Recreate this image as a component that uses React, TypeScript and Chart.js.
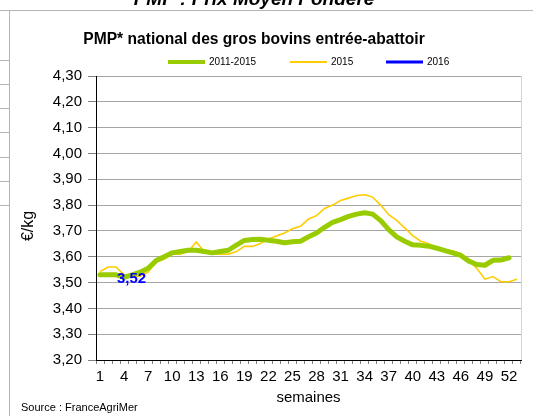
import { useEffect, useRef } from 'react';
import { Chart, registerables } from 'chart.js';

Chart.register(...registerables);

const weeks = ['1','2','3','4','5','6','7','8','9','10','11','12','13','14','15','16','17','18','19','20','21','22','23','24','25','26','27','28','29','30','31','32','33','34','35','36','37','38','39','40','41','42','43','44','45','46','47','48','49','50','51','52','53'];

const avg20112015 = [3.53,3.53,3.53,3.52,3.53,3.54,3.555,3.585,3.60,3.615,3.62,3.625,3.625,3.62,3.615,3.62,3.625,3.645,3.663,3.667,3.668,3.664,3.66,3.654,3.658,3.66,3.677,3.692,3.714,3.733,3.744,3.756,3.765,3.77,3.765,3.74,3.705,3.677,3.66,3.646,3.644,3.641,3.633,3.624,3.615,3.605,3.583,3.57,3.567,3.586,3.587,3.596];

const y2015 = [3.543,3.56,3.56,3.53,3.525,3.525,3.54,3.58,3.59,3.61,3.61,3.62,3.657,3.62,3.61,3.61,3.61,3.62,3.64,3.64,3.651,3.669,3.68,3.692,3.708,3.718,3.746,3.759,3.787,3.80,3.818,3.827,3.837,3.84,3.831,3.80,3.763,3.741,3.712,3.682,3.66,3.65,3.635,3.628,3.622,3.613,3.587,3.554,3.513,3.523,3.503,3.503,3.513];

const y2016 = [3.52];

const seriesNames = ['2011-2015', '2015', '2016'];
const seriesColors = ['#99cc00', '#ffcc00', '#0000ff'];

const yMin = 3.2;
const yMax = 4.3;
const yStep = 0.1;

const pageTitle = 'PMP : Prix Moyen Pondéré';
const chartTitle = 'PMP* national des gros bovins entrée-abattoir';
const yTitle = '€/kg';
const xTitle = 'semaines';
const sourceText = 'Source : FranceAgriMer';

const FONT = '"Liberation Sans", Arial, sans-serif';
const fmt = (v: number) => Number(v).toFixed(2).replace('.', ',');

const decorPlugin = {
  id: 'decor',
  beforeDraw(chart: any) {
    const ctx = chart.ctx as CanvasRenderingContext2D;
    ctx.save();
    ctx.fillStyle = '#ffffff';
    ctx.fillRect(0, 0, chart.width, chart.height);
    ctx.strokeStyle = '#b4b4b4';
    ctx.lineWidth = 1;
    ctx.beginPath();
    ctx.moveTo(0, 10.5);
    ctx.lineTo(chart.width, 10.5);
    ctx.moveTo(9.5, 10.5);
    ctx.lineTo(9.5, chart.height);
    for (const y of [60, 84, 108, 132, 157, 181, 205]) {
      ctx.moveTo(0, y + 0.5);
      ctx.lineTo(9.5, y + 0.5);
    }
    ctx.stroke();
    ctx.restore();
  },
  afterDraw(chart: any) {
    const ctx = chart.ctx as CanvasRenderingContext2D;
    const area = chart.chartArea;
    ctx.save();
    // plot area right border
    ctx.strokeStyle = '#d4d4d4';
    ctx.lineWidth = 1;
    ctx.beginPath();
    ctx.moveTo(area.right + 0.5, area.top);
    ctx.lineTo(area.right + 0.5, area.bottom);
    ctx.stroke();

    ctx.fillStyle = '#000';
    // cut page title
    ctx.font = `italic bold 19px ${FONT}`;
    ctx.textAlign = 'center';
    ctx.textBaseline = 'alphabetic';
    ctx.fillText(pageTitle, 254, 5);

    // chart title
    ctx.font = `bold 15.6px ${FONT}`;
    ctx.textBaseline = 'middle';
    ctx.fillText(chartTitle, 254, 40);

    // legend
    const legendX = [168, 290, 386];
    ctx.font = `10px ${FONT}`;
    ctx.textAlign = 'left';
    seriesNames.forEach((name, i) => {
      ctx.strokeStyle = seriesColors[i];
      ctx.lineWidth = i === 0 ? 4 : i === 1 ? 2 : 3;
      ctx.beginPath();
      ctx.moveTo(legendX[i], 62);
      ctx.lineTo(legendX[i] + 37, 62);
      ctx.stroke();
      ctx.fillStyle = '#000';
      ctx.fillText(name, legendX[i] + 41, 62);
    });

    // y axis title
    ctx.save();
    ctx.translate(29, 226);
    ctx.rotate(-Math.PI / 2);
    ctx.font = `16px ${FONT}`;
    ctx.textAlign = 'center';
    ctx.textBaseline = 'middle';
    ctx.fillText(yTitle, 0, 0);
    ctx.restore();

    // x axis title
    ctx.font = `15px ${FONT}`;
    ctx.textAlign = 'center';
    ctx.textBaseline = 'middle';
    ctx.fillText(xTitle, (area.left + area.right) / 2, 398);

    // source
    ctx.font = `11px ${FONT}`;
    ctx.textAlign = 'left';
    ctx.fillText(sourceText, 21, 408);

    // 2016 data label
    const meta = chart.getDatasetMeta(2);
    const pt = meta && meta.data[0];
    if (pt) {
      ctx.font = `bold 15px ${FONT}`;
      ctx.fillStyle = seriesColors[2];
      ctx.textAlign = 'left';
      ctx.textBaseline = 'middle';
      ctx.fillText(fmt(y2016[0]), pt.x + 17, pt.y + 1);
    }
    ctx.restore();
  },
};

export default function App() {
  const ref = useRef<HTMLCanvasElement>(null);
  useEffect(() => {
    if (!ref.current) return;
    const chart = new Chart(ref.current, {
      type: 'line',
      data: {
        labels: weeks,
        datasets: [
          {
            label: seriesNames[0],
            data: avg20112015,
            borderColor: seriesColors[0],
            backgroundColor: seriesColors[0],
            borderWidth: 5,
            pointRadius: 0,
            borderCapStyle: 'round',
            borderJoinStyle: 'round',
            tension: 0,
          },
          {
            label: seriesNames[1],
            data: y2015,
            borderColor: seriesColors[1],
            backgroundColor: seriesColors[1],
            borderWidth: 1.6,
            pointRadius: 0,
            tension: 0,
          },
          {
            label: seriesNames[2],
            data: y2016,
            borderColor: seriesColors[2],
            backgroundColor: seriesColors[2],
            borderWidth: 3,
            pointRadius: 0,
            tension: 0,
          },
        ],
      },
      options: {
        responsive: false,
        animation: false,
        devicePixelRatio: 1,
        layout: { padding: { top: 76, right: 12, left: 0, bottom: 0 } },
        plugins: {
          legend: { display: false },
          title: { display: false },
          tooltip: { enabled: false },
        },
        scales: {
          x: {
            type: 'category',
            offset: true,
            grid: {
              display: true,
              drawOnChartArea: false,
              drawTicks: true,
              tickLength: 4,
              offset: true,
              tickColor: '#808080',
            },
            border: { display: true, color: '#000', width: 1 },
            ticks: {
              autoSkip: false,
              maxRotation: 0,
              minRotation: 0,
              padding: 4,
              color: '#000',
              font: { family: FONT, size: 15 },
              callback: (_v: any, i: number) => (i % 3 === 0 ? weeks[i] : ''),
            },
            afterFit: (s: any) => {
              s.height = 56;
            },
          },
          y: {
            min: yMin,
            max: yMax,
            grid: {
              color: '#a6a6a6',
              tickLength: 8,
              tickColor: '#808080',
            },
            border: { display: true, color: '#000', width: 1 },
            ticks: {
              stepSize: yStep,
              padding: 6,
              color: '#000',
              font: { family: FONT, size: 15 },
              callback: (v: any) => fmt(v),
            },
            afterFit: (s: any) => {
              s.width = 96;
            },
          },
        },
      },
      plugins: [decorPlugin],
    } as any);
    return () => chart.destroy();
  }, []);
  return (
    <div style={{ position: 'fixed', left: 0, top: 0, width: 533, height: 416 }}>
      <canvas ref={ref} width={533} height={416} style={{ width: 533, height: 416 }} />
    </div>
  );
}
